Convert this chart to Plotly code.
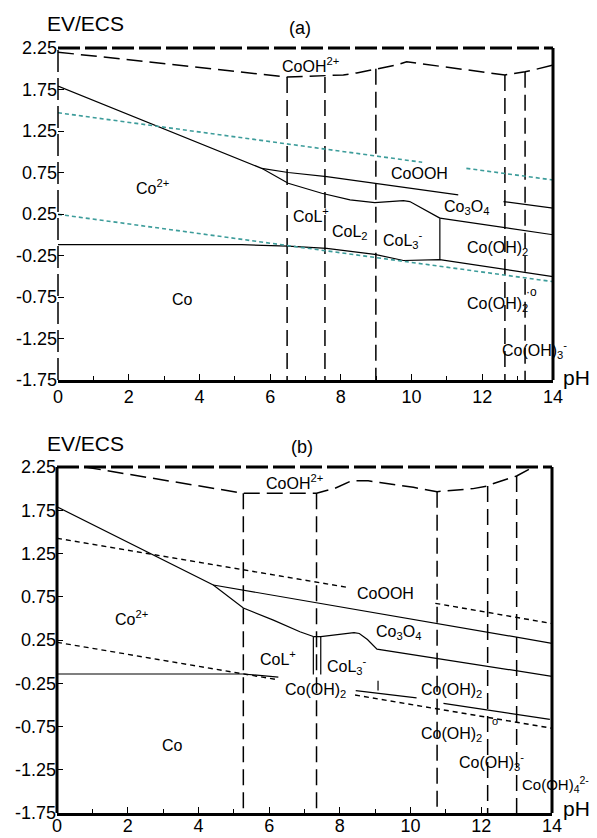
import plotly.graph_objects as go

# page is shown with the browser's default 8px body margin, so the figure is 8px smaller
OFF = 8
W, H = 597 - OFF, 838 - OFF

# ---------------- Panel (a) data ----------------
a_top_pH = [0, 6.48, 8.07, 8.45, 9.58, 9.86, 10.8, 12.31, 12.64, 13.21, 13.44, 14]
a_top_E = [2.20, 1.90, 1.925, 1.95, 2.045, 2.085, 2.03, 1.937, 1.925, 1.965, 1.985, 2.045]
a_vl_pH = [6.48, 7.55, 8.99, 12.64, 13.21]
a_vl_top = [1.90, 1.90, 2.00, 1.925, 1.965]

a_steep_pH = [0, 5.76, 6.51, 7.46, 8.26, 8.96, 9.77, 9.95, 10.80]
a_steep_E = [1.79, 0.80, 0.62, 0.50, 0.42, 0.386, 0.41, 0.40, 0.20]
a_cooh_pH = [5.76, 6.51, 7.60, 8.96, 11.32]
a_cooh_E = [0.80, 0.75, 0.70, 0.62, 0.48]
a_vsolid_pH = [10.8, 10.8]
a_vsolid_E = [0.20, -0.30]
a_mid_pH = [10.8, 14]
a_mid_E = [0.20, 0.0]
a_upr_pH = [12.6, 14]
a_upr_E = [0.40, 0.32]
a_bot_pH = [0, 5.2, 6.51, 7.6, 8.96, 9.77, 10.8, 14]
a_bot_E = [-0.12, -0.12, -0.136, -0.163, -0.236, -0.31, -0.30, -0.505]
a_o2_pH = [[0, 10.3], [11.55, 14]]
a_o2_E = [[1.47, 0.873], [0.80, 0.66]]
a_h2_pH = [0, 14]
a_h2_E = [0.246, -0.565]

# ---------------- Panel (b) data ----------------
b_top_pH = [0.79, 5.27, 7.34, 7.86, 8.33, 8.80, 9.13, 10.08, 10.75, 11.21, 11.77, 12.18, 12.28, 13.0, 13.47]
b_top_E = [2.25, 1.946, 1.946, 2.004, 2.09, 2.09, 2.07, 2.015, 1.965, 1.98, 2.0, 2.03, 2.05, 2.146, 2.25]
b_vl_pH = [5.27, 7.34, 10.75, 12.18, 13.0]
b_vl_top = [1.946, 1.946, 1.965, 2.03, 2.146]

b_steep_pH = [0, 4.42, 5.27, 6.12, 6.87, 7.25]
b_steep_E = [1.79, 0.886, 0.62, 0.48, 0.346, 0.29]
b_co3o4_pH = [7.25, 7.46, 8.4, 8.55, 8.78, 9.05, 14]
b_co3o4_E = [0.29, 0.29, 0.335, 0.325, 0.255, 0.145, -0.17]
b_v1_pH = [7.25, 7.25]
b_v2_pH = [7.46, 7.46]
b_v_E = [0.29, -0.15]
b_cooh_pH = [4.42, 14]
b_cooh_E = [0.886, 0.212]
b_bot_pH = [[0, 5.27, 6.26], [8.45, 10.17], [10.93, 13.94]]
b_bot_E = [[-0.143, -0.143, -0.18], [-0.335, -0.42], [-0.482, -0.668]]
b_tick_pH = [9.08, 9.08]
b_tick_E = [-0.22, -0.335]
b_o2_pH = [[0, 8.19], [10.7, 14]]
b_o2_E = [[1.426, 0.86], [0.674, 0.44]]
b_h2_pH = [[0, 6.26], [8.43, 14]]
b_h2_E = [[0.223, -0.21], [-0.386, -0.77]]

# axis ticks
x_ticks = [0, 2, 4, 6, 8, 10, 12, 14]
y_ticks = [2.25, 1.75, 1.25, 0.75, 0.25, -0.25, -0.75, -1.25, -1.75]
y_ticktext = ["2.25", "1.75", "1.25", "0.75", "0.25", "-0.25", "-0.75", "-1.25", "-1.75"]

# labels (text, pH, E)
a_labels = [
    ("CoOH<sup>2+</sup>", 7.13, 2.045),
    ("Co<sup>2+</sup>", 2.66, 0.575),
    ("CoOOH", 10.21, 0.744),
    ("CoL<sup>+</sup>", 7.16, 0.238),
    ("CoL<sub>2</sub>", 8.26, 0.033),
    ("CoL<sub>3</sub><sup>-</sup>", 9.76, -0.063),
    ("Co<sub>3</sub>O<sub>4</sub>", 11.54, 0.334),
    ("Co(OH)<sub>2</sub>", 12.44, -0.16),
    ("Co(OH)<sub>2</sub>", 12.44, -0.846),
    ("·o", 13.4, -0.69),
    ("Co(OH)<sub>3</sub><sup>-</sup>", 13.49, -1.389),
    ("Co", 3.51, -0.786),
]
b_labels = [
    ("CoOH<sup>2+</sup>", 6.73, 2.077),
    ("CoOOH", 9.30, 0.793),
    ("Co<sup>2+</sup>", 2.12, 0.504),
    ("CoL<sup>+</sup>", 6.25, 0.042),
    ("Co", 3.28, -0.964),
    ("Co<sub>3</sub>O<sub>4</sub>", 9.67, 0.331),
    ("CoL<sub>3</sub><sup>-</sup>", 8.20, -0.05),
    ("Co(OH)<sub>2</sub>", 7.30, -0.328),
    ("Co(OH)<sub>2</sub>", 11.17, -0.328),
    ("Co(OH)<sub>2</sub>", 11.17, -0.848),
    ("Co(OH)<sub>3</sub><sup>-</sup>", 12.30, -1.16),
    ("o", 12.39, -0.686),
]
# label that sits past the pH-14 edge (pixel position in the page)
b_edge_label = ("Co(OH)<sub>4</sub><sup>2-</sup>", 555, 784)

FONT = "Liberation Sans, Arial, sans-serif"
DASH_V = "16px,7px"
fig = go.Figure()


def line(x, y, xa, ya, dash="solid", width=1.2, color="black", clip=True):
    fig.add_trace(go.Scatter(x=x, y=y, mode="lines", xaxis=xa, yaxis=ya,
                             line=dict(color=color, width=width, dash=dash),
                             cliponaxis=clip, hoverinfo="skip", showlegend=False))


# Panel (a)
line(a_top_pH, a_top_E, "x", "y", dash=DASH_V, width=1.5, clip=False)
for p, t in zip(a_vl_pH, a_vl_top):
    line([p, p], [t, -1.75], "x", "y", dash=DASH_V, width=1.5)
line(a_steep_pH, a_steep_E, "x", "y")
line(a_cooh_pH, a_cooh_E, "x", "y")
line(a_vsolid_pH, a_vsolid_E, "x", "y")
line(a_mid_pH, a_mid_E, "x", "y")
line(a_upr_pH, a_upr_E, "x", "y")
line(a_bot_pH, a_bot_E, "x", "y")
for xs, ys in zip(a_o2_pH, a_o2_E):
    line(xs, ys, "x", "y", dash="4px,3px", width=1.6, color="#3c9c9a")
line(a_h2_pH, a_h2_E, "x", "y", dash="4px,3px", width=1.6, color="#3c9c9a")

# Panel (b)
line(b_top_pH, b_top_E, "x2", "y2", dash=DASH_V, width=1.5, clip=False)
for p, t in zip(b_vl_pH, b_vl_top):
    line([p, p], [t, -1.75], "x2", "y2", dash=DASH_V, width=1.5)
line(b_steep_pH, b_steep_E, "x2", "y2")
line(b_co3o4_pH, b_co3o4_E, "x2", "y2")
line(b_v1_pH, b_v_E, "x2", "y2")
line(b_v2_pH, b_v_E, "x2", "y2")
line(b_cooh_pH, b_cooh_E, "x2", "y2")
for xs, ys in zip(b_bot_pH, b_bot_E):
    line(xs, ys, "x2", "y2")
line(b_tick_pH, b_tick_E, "x2", "y2")
for xs, ys in zip(b_o2_pH, b_o2_E):
    line(xs, ys, "x2", "y2", dash="5px,4px", width=1.4)
for xs, ys in zip(b_h2_pH, b_h2_E):
    line(xs, ys, "x2", "y2", dash="5px,4px", width=1.4)


def fx(px):
    return (px - OFF) / W


def fy(py):
    return 1 - (py - OFF) / H


A = dict(l=58, r=553, t=48, b=380)
B = dict(l=57, r=552, t=467, b=813)

axis_common = dict(showgrid=False, zeroline=False, ticks="inside", ticklen=6,
                   tickcolor="black", tickwidth=1, automargin=False,
                   tickfont=dict(family=FONT, size=18, color="black"))

fig.update_layout(
    width=W, height=H, margin=dict(l=0, r=0, t=0, b=0, autoexpand=False),
    paper_bgcolor="white", plot_bgcolor="white", showlegend=False,
    xaxis=dict(domain=[fx(A["l"]), fx(A["r"])], range=[0, 14], anchor="y",
               tickvals=x_ticks, showline=True, linewidth=3, linecolor="black",
               minor=dict(dtick=1, ticks="inside", ticklen=4, tickcolor="black"),
               ticklabelstandoff=-2, **axis_common),
    yaxis=dict(domain=[fy(A["b"]), fy(A["t"])], range=[-1.75, 2.25], anchor="x",
               tickvals=y_ticks, ticktext=y_ticktext, showline=False, **axis_common),
    xaxis2=dict(domain=[fx(B["l"]), fx(B["r"])], range=[0, 14], anchor="y2",
                tickvals=x_ticks, showline=True, linewidth=3, linecolor="black",
                minor=dict(dtick=1, ticks="inside", ticklen=4, tickcolor="black"),
                ticklabelstandoff=-6, **axis_common),
    yaxis2=dict(domain=[fy(B["b"]), fy(B["t"])], range=[-1.75, 2.25], anchor="x2",
                tickvals=y_ticks, ticktext=y_ticktext, showline=False, **axis_common),
)

shapes = []
shapes.append(dict(type="line", xref="paper", yref="paper", x0=fx(A["l"]), x1=fx(A["l"]),
                   y0=fy(A["b"]), y1=fy(A["t"]), line=dict(color="black", width=1.5, dash="22px,6px")))
shapes.append(dict(type="line", xref="paper", yref="paper", x0=fx(A["l"]), x1=fx(A["r"]),
                   y0=fy(A["t"]), y1=fy(A["t"]), line=dict(color="black", width=3, dash="22px,5px")))
shapes.append(dict(type="line", xref="paper", yref="paper", x0=fx(A["r"]), x1=fx(A["r"]),
                   y0=fy(A["b"]), y1=fy(A["t"]), line=dict(color="black", width=3)))
shapes.append(dict(type="line", xref="paper", yref="paper", x0=fx(B["l"]), x1=fx(B["l"]),
                   y0=fy(B["b"]), y1=fy(B["t"]), line=dict(color="black", width=3)))
shapes.append(dict(type="line", xref="paper", yref="paper", x0=fx(B["l"]), x1=fx(B["r"]),
                   y0=fy(B["t"]), y1=fy(B["t"]), line=dict(color="black", width=3, dash="22px,5px")))
shapes.append(dict(type="line", xref="paper", yref="paper", x0=fx(B["r"]), x1=fx(B["r"]),
                   y0=fy(B["b"]), y1=fy(B["t"]), line=dict(color="black", width=3)))
fig.update_layout(shapes=shapes)

ann = []
for t, x, y in a_labels:
    ann.append(dict(text=t, x=x, y=y, xref="x", yref="y", showarrow=False,
                    font=dict(family=FONT, size=16 if t != "·o" else 12, color="black")))
for t, x, y in b_labels:
    ann.append(dict(text=t, x=x, y=y, xref="x2", yref="y2", showarrow=False,
                    font=dict(family=FONT, size=16 if t != "o" else 11, color="black")))
t, px, py = b_edge_label
ann.append(dict(text=t, x=fx(px), y=fy(py), xref="paper", yref="paper", showarrow=False,
                xanchor="center", yanchor="middle", font=dict(family=FONT, size=15, color="black")))
for t, px, py, s in [("EV/ECS", 85, 23, 21), ("(a)", 300, 28, 18), ("pH", 576, 377, 21),
                     ("EV/ECS", 85, 443, 21), ("(b)", 302, 447, 18), ("pH", 576, 808, 21)]:
    ann.append(dict(text=t, x=fx(px), y=fy(py), xref="paper", yref="paper", showarrow=False,
                    xanchor="center", yanchor="middle", font=dict(family=FONT, size=s, color="black")))
fig.update_layout(annotations=ann)

fig.write_html("out.html")
